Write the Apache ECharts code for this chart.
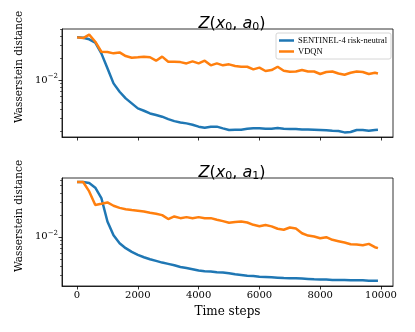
<!DOCTYPE html>
<html>
<head>
<meta charset="utf-8">
<script src="https://cdn.jsdelivr.net/npm/echarts@6/dist/echarts.min.js"></script>
<style>
  html, body { margin: 0; padding: 0; background: #fff; }
  #chart { width: 415px; height: 332px; }
</style>
</head>
<body>
<div id="chart"></div>
<script>
// time steps (x)
const steps = [0, 200, 400, 600, 800, 1000, 1200, 1400, 1600, 1800, 2000, 2200, 2400, 2600, 2800, 3000, 3200, 3400, 3600, 3800,
  4000, 4200, 4400, 4600, 4800, 5000, 5200, 5400, 5600, 5800, 6000, 6200, 6400, 6600, 6800, 7000, 7200, 7400, 7600, 7800,
  8000, 8200, 8400, 8600, 8800, 9000, 9200, 9400, 9600, 9800, 9900];

// Z(x0, a0)
const sentinelA0 = [0.0384, 0.0380, 0.0361, 0.0325, 0.0232, 0.0145, 0.0090, 0.00692, 0.00561, 0.00479, 0.00409, 0.00380, 0.00349, 0.00332, 0.00315,
  0.00292, 0.00274, 0.00263, 0.00255, 0.00244, 0.00230, 0.00222, 0.00230, 0.00230, 0.00218, 0.00207, 0.00209, 0.00209, 0.00215, 0.00218,
  0.00218, 0.00215, 0.00215, 0.00220, 0.00215, 0.00213, 0.00213, 0.00211, 0.00211, 0.00209, 0.00207, 0.00205, 0.00202, 0.00200, 0.00192,
  0.00194, 0.00207, 0.00207, 0.00202, 0.00207, 0.00209];
const vdqnA0 = [0.0384, 0.0376, 0.0418, 0.0335, 0.0244, 0.0242, 0.0232, 0.0239, 0.0213, 0.0202, 0.0205, 0.0209, 0.0205, 0.0184, 0.0209,
  0.0178, 0.0178, 0.0176, 0.0169, 0.0180, 0.0169, 0.0184, 0.0159, 0.0169, 0.0159, 0.0164, 0.0156, 0.0152, 0.0152, 0.0140,
  0.0148, 0.0133, 0.0137, 0.0152, 0.0134, 0.0130, 0.0131, 0.0137, 0.0131, 0.0131, 0.0121, 0.0129, 0.0131, 0.0123, 0.0118,
  0.0126, 0.0131, 0.0129, 0.0121, 0.0126, 0.0123];

// Z(x0, a1)
const sentinelA1 = [0.0561, 0.0561, 0.0543, 0.0469, 0.0339, 0.0162, 0.0105, 0.00819, 0.00700, 0.00623, 0.00567, 0.00527, 0.00494, 0.00469, 0.00445,
  0.00427, 0.00409, 0.00388, 0.00376, 0.00361, 0.00346, 0.00339, 0.00335, 0.00328, 0.00325, 0.00318, 0.00308, 0.00302, 0.00295, 0.00292,
  0.00286, 0.00283, 0.00280, 0.00277, 0.00274, 0.00272, 0.00272, 0.00269, 0.00266, 0.00263, 0.00261, 0.00261, 0.00258, 0.00258, 0.00258,
  0.00255, 0.00255, 0.00255, 0.00252, 0.00252, 0.00252];
const vdqnA1 = [0.0561, 0.0561, 0.0418, 0.0272, 0.0283, 0.0295, 0.0266, 0.0249, 0.0239, 0.0232, 0.0227, 0.0222, 0.0213, 0.0207, 0.0198,
  0.0175, 0.0190, 0.0180, 0.0186, 0.0180, 0.0186, 0.0180, 0.0180, 0.0171, 0.0164, 0.0156, 0.0160, 0.0162, 0.0157, 0.0146,
  0.0140, 0.0145, 0.0139, 0.0129, 0.0125, 0.0134, 0.0130, 0.0112, 0.0104, 0.0101, 0.00959, 0.00989, 0.00910, 0.00873, 0.00836,
  0.00794, 0.00785, 0.00769, 0.00802, 0.00722, 0.00700];

// ticks
const xTicks = [0, 2000, 4000, 6000, 8000, 10000];
const yMajor = [0.01];
const yMinor = [0.002, 0.003, 0.004, 0.005, 0.006, 0.007, 0.008, 0.009, 0.02, 0.03, 0.04, 0.05, 0.06];

const blue = '#1f77b4';
const orange = '#ff7f0e';
const serif = 'DejaVu Serif';

const chart = echarts.init(document.getElementById('chart'));

function pairs(ys) {
  return steps.map((s, i) => [s, ys[i]]);
}

function xAxis(idx, labels) {
  return {
    type: 'value', gridIndex: idx, min: -495, max: 10395,
    splitLine: { show: false },
    axisLine: { onZero: false, lineStyle: { color: '#000', width: 0.8 } },
    axisTick: { customValues: xTicks, length: 3.5, lineStyle: { color: '#000', width: 0.8 } },
    axisLabel: {
      show: labels, customValues: xTicks, color: '#000', fontFamily: serif, fontSize: 10, margin: 4,
      formatter: v => String(v)
    },
    name: labels ? 'Time steps' : '',
    nameLocation: 'middle', nameGap: 20,
    nameTextStyle: { color: '#000', fontFamily: serif, fontSize: 12 }
  };
}

function yAxes(idx, min, max) {
  return [{
    type: 'log', logBase: 10, gridIndex: idx, min: min, max: max, position: 'left',
    splitLine: { show: false },
    axisLine: { onZero: false, lineStyle: { color: '#000', width: 0.8 } },
    axisTick: { customValues: yMajor, length: 3.5, lineStyle: { color: '#000', width: 0.8 } },
    axisLabel: {
      customValues: yMajor, margin: 4, color: '#000',
      formatter: () => '{b|10}{s|−2}',
      rich: {
        b: { fontFamily: serif, fontSize: 10, color: '#000' },
        s: { fontFamily: serif, fontSize: 7, color: '#000', padding: [0, 0, 7, 0] }
      }
    }
  }, {
    type: 'log', logBase: 10, gridIndex: idx, min: min, max: max, position: 'left',
    splitLine: { show: false },
    axisLine: { show: false, onZero: false },
    axisTick: { customValues: yMinor, length: 2, lineStyle: { color: '#000', width: 0.6 } },
    axisLabel: { show: false }
  }];
}

function titleText(sub) {
  return '{i|Z}{n|(}{i|x}{s|0}{n|,}{i| a}{s|' + sub + '}{n|)}';
}
const titleRich = {
  i: { fontFamily: 'DejaVu Sans', fontStyle: 'italic', fontWeight: 'normal', fontSize: 16, color: '#000' },
  n: { fontFamily: 'DejaVu Sans', fontWeight: 'normal', fontSize: 16, color: '#000' },
  s: { fontFamily: 'DejaVu Sans', fontWeight: 'normal', fontSize: 11, color: '#000', padding: [8, 0, 0, 0] }
};

function line(name, data, color, x, y) {
  return {
    name: name, type: 'line', xAxisIndex: x, yAxisIndex: y,
    data: pairs(data), showSymbol: false, symbol: 'none', smooth: false,
    lineStyle: { color: color, width: 2.5 }, itemStyle: { color: color },
    animation: false
  };
}

chart.setOption({
  animation: false,
  title: [
    { text: titleText('0'), left: 227, top: 9, textAlign: 'center', textStyle: { fontWeight: 'normal', rich: titleRich } },
    { text: titleText('1'), left: 227, top: 158, textAlign: 'center', textStyle: { fontWeight: 'normal', rich: titleRich } }
  ],
  grid: [
    { left: 62, top: 29, width: 331, height: 108, show: true, borderColor: '#000', borderWidth: 0.8, backgroundColor: 'transparent' },
    { left: 62, top: 178, width: 331, height: 108, show: true, borderColor: '#000', borderWidth: 0.8, backgroundColor: 'transparent' }
  ],
  legend: {
    left: 276, top: 33, orient: 'vertical',
    data: [
      { name: 'SENTINEL-4 risk-neutral', icon: 'rect' },
      { name: 'VDQN', icon: 'rect' }
    ],
    itemWidth: 15, itemHeight: 2.5, itemGap: 2,
    padding: [3, 4, 3, 3],
    backgroundColor: '#fff', borderColor: '#ccc', borderWidth: 0.8, borderRadius: 2,
    textStyle: { fontFamily: 'Liberation Serif', fontSize: 8.5, color: '#000', padding: [0, 0, 0, -1] }
  },
  xAxis: [xAxis(0, false), xAxis(1, true)],
  yAxis: yAxes(0, 0.00166, 0.050).concat(yAxes(1, 0.00213, 0.0637)),
  series: [
    line('SENTINEL-4 risk-neutral', sentinelA0, blue, 0, 0),
    line('VDQN', vdqnA0, orange, 0, 0),
    line('SENTINEL-4 risk-neutral', sentinelA1, blue, 1, 2),
    line('VDQN', vdqnA1, orange, 1, 2)
  ],
  graphic: [
    { type: 'text', x: 19, y: 67, rotation: Math.PI / 2,
      style: { text: 'Wasserstein distance', fontFamily: serif, fontSize: 10.5, fill: '#000', align: 'center', verticalAlign: 'middle' } },
    { type: 'text', x: 19, y: 216, rotation: Math.PI / 2,
      style: { text: 'Wasserstein distance', fontFamily: serif, fontSize: 10.5, fill: '#000', align: 'center', verticalAlign: 'middle' } }
  ]
});
</script>
</body>
</html>
